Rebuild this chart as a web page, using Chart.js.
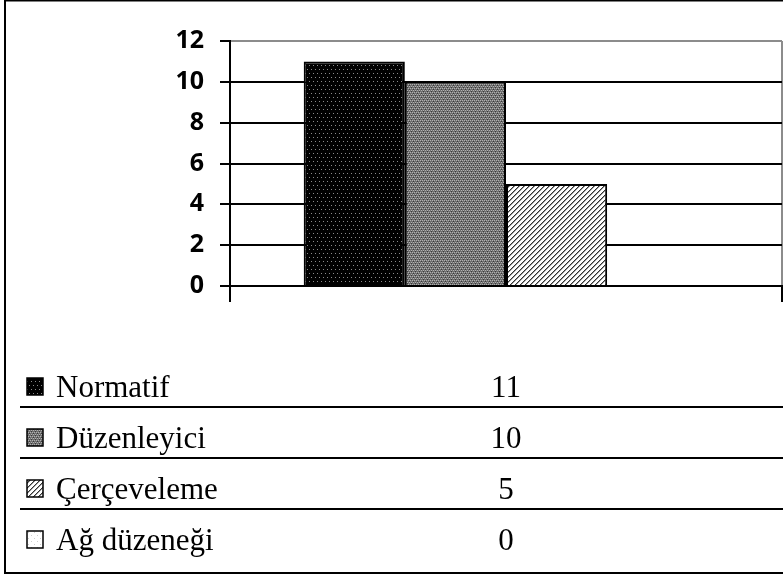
<!DOCTYPE html>
<html>
<head>
<meta charset="utf-8">
<script src="https://cdn.jsdelivr.net/npm/chart.js@4"></script>
<style>
  html, body { margin: 0; padding: 0; background: #fff; }
  canvas { display: block; }
</style>
</head>
<body>
<canvas id="chart" width="783" height="576"></canvas>
<script>
const categories = [""];
const seriesNames = ["Normatif", "Düzenleyici", "Çerçeveleme", "Ağ düzeneği"];
const seriesValues = [11, 10, 5, 0];
const yTicks = [0, 2, 4, 6, 8, 10, 12];

// little fill patterns like the old office charts
function makePattern(size, bg, draw) {
    const c = document.createElement("canvas");
    c.width = size;
    c.height = size;
    const g = c.getContext("2d");
    g.fillStyle = bg;
    g.fillRect(0, 0, size, size);
    draw(g);
    return g.createPattern(c, "repeat");
}

const patterns = [
    makePattern(8, "#000", g => {
        g.fillStyle = "#8a8a8a";
        g.fillRect(1, 1, 1, 1);
        g.fillRect(5, 1, 1, 1);
        g.fillRect(3, 5, 1, 1);
        g.fillRect(7, 5, 1, 1);
    }),
    makePattern(4, "#6e6e6e", g => {
        g.fillStyle = "#b0b0b0";
        g.fillRect(0, 0, 1, 1);
        g.fillRect(2, 0, 1, 1);
        g.fillRect(1, 2, 1, 1);
        g.fillRect(3, 2, 1, 1);
        g.fillStyle = "#3a3a3a";
        g.fillRect(1, 1, 1, 1);
        g.fillRect(3, 3, 1, 1);
    }),
    makePattern(5, "#fff", g => {
        g.fillStyle = "#333";
        for (let i = 0; i < 5; i++) g.fillRect(i, 4 - i, 1, 1);
        g.fillStyle = "#999";
        for (let i = 0; i < 5; i++) g.fillRect((i + 1) % 5, 4 - i, 1, 1);
    }),
    makePattern(6, "#fff", g => {
        g.fillStyle = "#cfcfcf";
        g.fillRect(1, 1, 1, 1);
        g.fillRect(4, 4, 1, 1);
    })
];

// data table under the chart + outer frame
const tablePlugin = {
    id: "dataTable",
    afterDraw(chart) {
        const ctx = chart.ctx;
        const xScale = chart.scales.x;
        const valueX = xScale.getPixelForValue(0);
        const firstBase = 397;
        const rowH = 51;

        ctx.save();
        ctx.strokeStyle = "#000";
        ctx.lineWidth = 2;
        ctx.beginPath();
        ctx.moveTo(5, 0);
        ctx.lineTo(5, 573);
        ctx.moveTo(5, 0.5);
        ctx.lineTo(783, 0.5);
        ctx.moveTo(4, 573);
        ctx.lineTo(783, 573);
        ctx.stroke();

        ctx.font = "31px 'Liberation Serif', 'Times New Roman', serif";
        ctx.textBaseline = "alphabetic";
        seriesNames.forEach((name, i) => {
            const base = firstBase + i * rowH;
            // key
            ctx.fillStyle = patterns[i];
            ctx.fillRect(27, base - 19, 16, 17);
            ctx.lineWidth = 1.5;
            ctx.strokeRect(27, base - 19, 16, 17);
            // label
            ctx.fillStyle = "#000";
            ctx.textAlign = "left";
            ctx.fillText(name, 56, base);
            // value
            ctx.textAlign = "center";
            ctx.fillText(String(seriesValues[i]), valueX, base);
            // row rule
            if (i < seriesNames.length - 1) {
                ctx.lineWidth = 2;
                ctx.beginPath();
                ctx.moveTo(20, base + 10);
                ctx.lineTo(783, base + 10);
                ctx.stroke();
            }
        });
        ctx.restore();
    }
};

const ctx = document.getElementById("chart");

new Chart(ctx, {
    type: "bar",
    data: {
        labels: categories,
        datasets: seriesNames.map((name, i) => ({
            label: name,
            data: [seriesValues[i]],
            backgroundColor: patterns[i],
            borderColor: "#000",
            borderWidth: 2,
            borderSkipped: "start",
            categoryPercentage: 0.733,
            barPercentage: 1
        }))
    },
    options: {
        responsive: false,
        animation: false,
        layout: { padding: { left: 0, top: 41, right: 1, bottom: 0 } },
        plugins: {
            legend: { display: false },
            tooltip: { enabled: false }
        },
        scales: {
            x: {
                afterFit(scale) { scale.height = 290; },
                ticks: { display: false },
                grid: {
                    drawOnChartArea: true,
                    color: "#8c8c8c",
                    tickColor: "#000",
                    tickLength: 16,
                    lineWidth: 2,
                    tickWidth: 2
                },
                border: { display: true, color: "#000", width: 2 }
            },
            y: {
                min: 0,
                max: 12,
                afterFit(scale) { scale.width = 230; },
                afterBuildTicks(scale) {
                    scale.ticks = yTicks.map(v => ({ value: v }));
                },
                ticks: {
                    color: "#000",
                    padding: 16,
                    font: { family: "'Open Sans', sans-serif", size: 25, weight: "bold" }
                },
                grid: {
                    color: c => (c.tick && c.tick.value === 12 ? "#8c8c8c" : "#000"),
                    tickColor: "#000",
                    lineWidth: 2,
                    tickLength: 10
                },
                border: { display: true, color: "#000", width: 2 }
            }
        }
    },
    plugins: [tablePlugin]
});
</script>
</body>
</html>
